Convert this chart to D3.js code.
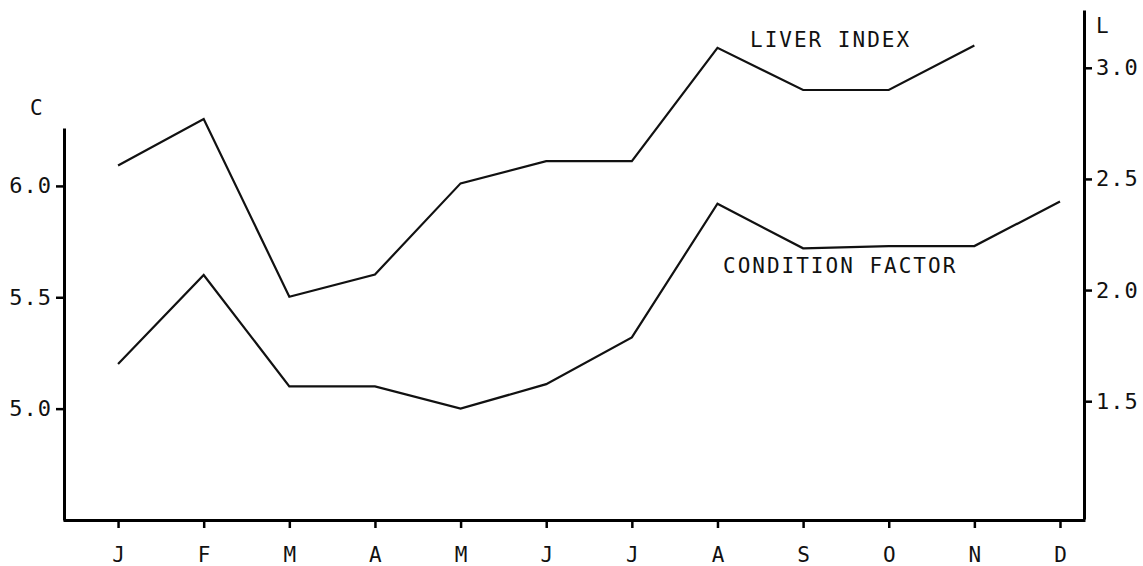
<!DOCTYPE html>
<html>
<head>
<meta charset="utf-8">
<script src="https://cdn.jsdelivr.net/npm/d3@7"></script>
<style>
  body { margin: 0; background: #fff; }
  svg text { font-family: "DejaVu Sans Mono", "Liberation Mono", monospace; fill: #111; }
</style>
</head>
<body>
<svg id="chart"></svg>
<script>
// Monthly values
const months = ['J', 'F', 'M', 'A', 'M', 'J', 'J', 'A', 'S', 'O', 'N', 'D'];
const conditionFactor = [5.20, 5.60, 5.10, 5.10, 5.00, 5.11, 5.32, 5.92, 5.72, 5.73, 5.73, 5.93];
const liverIndex = [2.56, 2.77, 1.97, 2.07, 2.48, 2.58, 2.58, 3.09, 2.90, 2.90, 3.10, null];
const leftTicks = [5.0, 5.5, 6.0];
const rightTicks = [1.5, 2.0, 2.5, 3.0];

const width = 1143;
const height = 566;

const svg = d3.select('#chart')
    .attr('width', width)
    .attr('height', height);

// Scales
const x = d3.scaleLinear().domain([-0.643, 11.292]).range([63, 1085]);
const yL = d3.scaleLinear().domain([4.5, 6.26]).range([520, 128]);
const yR = d3.scaleLinear().domain([0.97, 3.26]).range([519, 10]);

// Bottom axis
const xAxis = svg.append('g')
    .attr('transform', `translate(0,${yL(4.5)})`)
    .call(d3.axisBottom(x)
        .tickValues(d3.range(months.length))
        .tickFormat(i => months[i])
        .tickSize(8)
        .tickSizeOuter(0)
        .tickPadding(19));
xAxis.select('.domain').attr('stroke-width', 3);
xAxis.selectAll('.tick line').attr('stroke-width', 2.5);
xAxis.selectAll('text').style('font-size', '21px');

// Left axis (condition factor)
const leftAxis = svg.append('g')
    .attr('transform', 'translate(64,0)')
    .call(d3.axisLeft(yL)
        .tickValues(leftTicks)
        .tickFormat(d3.format('.1f'))
        .tickSize(8)
        .tickSizeOuter(0)
        .tickPadding(4));
leftAxis.select('.domain').attr('stroke-width', 3);
leftAxis.selectAll('.tick line').attr('stroke-width', 2.5);
leftAxis.selectAll('text').style('font-size', '22px').attr('letter-spacing', 1);

// Right axis (liver index)
const rightAxis = svg.append('g')
    .attr('transform', 'translate(1084,0)')
    .call(d3.axisRight(yR)
        .tickValues(rightTicks)
        .tickFormat(d3.format('.1f'))
        .tickSize(8)
        .tickSizeOuter(0)
        .tickPadding(4));
rightAxis.select('.domain').attr('stroke-width', 3);
rightAxis.selectAll('.tick line').attr('stroke-width', 2.5);
rightAxis.selectAll('text').style('font-size', '22px').attr('letter-spacing', 1);

// Axis letters
svg.append('text').attr('x', 30).attr('y', 115).style('font-size', '21px').text('C');
svg.append('text').attr('x', 1096).attr('y', 33).style('font-size', '21px').text('L');

// Lines
const lineL = d3.line()
    .defined(d => d != null)
    .x((d, i) => x(i))
    .y(d => yL(d));
const lineR = d3.line()
    .defined(d => d != null)
    .x((d, i) => x(i))
    .y(d => yR(d));

svg.append('path')
    .datum(conditionFactor)
    .attr('d', lineL)
    .attr('fill', 'none')
    .attr('stroke', '#111')
    .attr('stroke-width', 2.2);

svg.append('path')
    .datum(liverIndex)
    .attr('d', lineR)
    .attr('fill', 'none')
    .attr('stroke', '#111')
    .attr('stroke-width', 2.2);

// Series labels
svg.append('text')
    .attr('x', 750).attr('y', 47)
    .attr('letter-spacing', 2)
    .style('font-size', '21px')
    .text('LIVER INDEX');
svg.append('text')
    .attr('x', 723).attr('y', 273)
    .attr('letter-spacing', 2)
    .style('font-size', '21px')
    .text('CONDITION FACTOR');
</script>
</body>
</html>
